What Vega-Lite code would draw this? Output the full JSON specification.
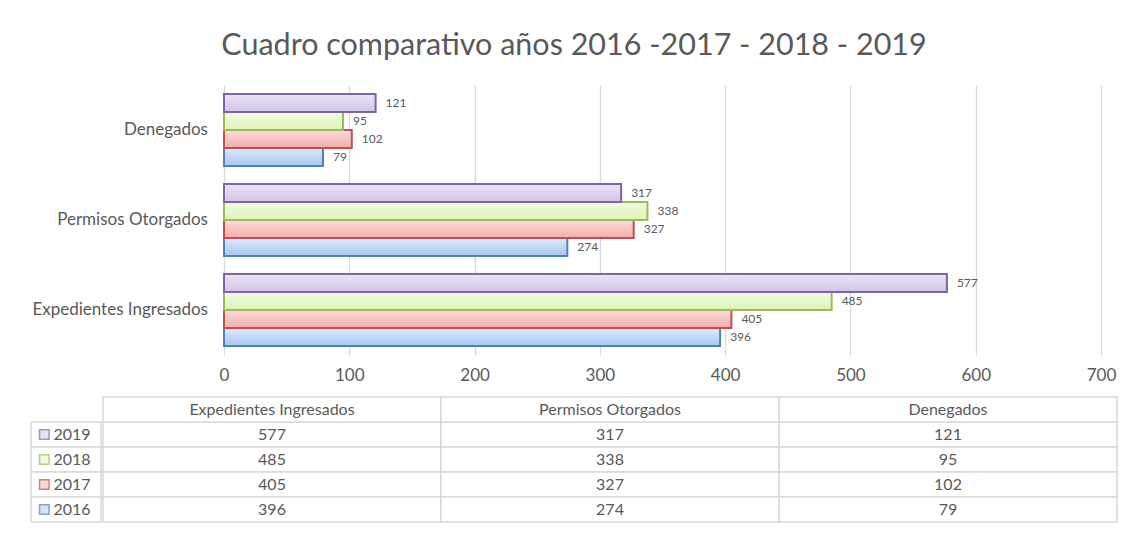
{
  "$schema": "https://vega.github.io/schema/vega-lite/v6.json",
  "background": "white",
  "padding": {"left": 30, "top": 30, "right": 10, "bottom": 10},
  "title": {"text": "Cuadro comparativo años 2016 -2017 - 2018 - 2019", "fontSize": 30.5, "font": "Lato", "fontWeight": "normal", "color": "#595959", "anchor": "middle", "offset": 24},
  "config": {"font": "Lato", "view": {"stroke": null}},
  "datasets": {
    "d": [
      {"cat": "Expedientes Ingresados", "year": "2019", "value": 577},
      {"cat": "Expedientes Ingresados", "year": "2018", "value": 485},
      {"cat": "Expedientes Ingresados", "year": "2017", "value": 405},
      {"cat": "Expedientes Ingresados", "year": "2016", "value": 396},
      {"cat": "Permisos Otorgados", "year": "2019", "value": 317},
      {"cat": "Permisos Otorgados", "year": "2018", "value": 338},
      {"cat": "Permisos Otorgados", "year": "2017", "value": 327},
      {"cat": "Permisos Otorgados", "year": "2016", "value": 274},
      {"cat": "Denegados", "year": "2019", "value": 121},
      {"cat": "Denegados", "year": "2018", "value": 95},
      {"cat": "Denegados", "year": "2017", "value": 102},
      {"cat": "Denegados", "year": "2016", "value": 79}
    ]
  },
  "spacing": 13,
  "vconcat": [
    {
      "width": 1084,
      "height": 270,
      "data": {"name": "d"},
      "encoding": {
        "y": {"field": "cat", "type": "nominal", "sort": ["Denegados", "Permisos Otorgados", "Expedientes Ingresados"],
          "scale": {"paddingInner": 0.2, "paddingOuter": 0.1}, "axis": null}
      },
      "layer": [
        {"mark": {"type": "rule", "color": "#d9d9d9", "strokeWidth": 1.3},
          "encoding": {"x": {"datum": 0, "type": "quantitative", "scale": {"domain": [-154.05, 711.17], "nice": false, "zero": false},
            "axis": {"title": null, "grid": true, "values": [0, 100, 200, 300, 400, 500, 600, 700], "ticks": false, "domain": false, "gridColor": "#d9d9d9", "gridWidth": 1.3, "labelFontSize": 17, "labelColor": "#595959", "labelPadding": 12}}}},
        {"transform": [{"filter": "datum.year == '2016'"}],
          "mark": {"type": "bar", "strokeWidth": 2, "stroke": "#4f81bd",
            "fill": {"gradient": "linear", "x1": 0, "y1": 0, "x2": 0, "y2": 1, "stops": [{"offset": 0, "color": "#dce9fb"}, {"offset": 1, "color": "#a9c7ef"}]}},
          "encoding": {"x": {"field": "value", "type": "quantitative"}, "yOffset": {"field": "year", "type": "nominal", "scale": {"domain": ["2019", "2018", "2017", "2016"], "paddingInner": 0, "paddingOuter": 0}}}},
        {"transform": [{"filter": "datum.year == '2017'"}],
          "mark": {"type": "bar", "strokeWidth": 2, "stroke": "#c0504d",
            "fill": {"gradient": "linear", "x1": 0, "y1": 0, "x2": 0, "y2": 1, "stops": [{"offset": 0, "color": "#fcdcdb"}, {"offset": 1, "color": "#f4acaa"}]}},
          "encoding": {"x": {"field": "value", "type": "quantitative"}, "yOffset": {"field": "year", "type": "nominal"}}},
        {"transform": [{"filter": "datum.year == '2018'"}],
          "mark": {"type": "bar", "strokeWidth": 2, "stroke": "#9bbb59",
            "fill": {"gradient": "linear", "x1": 0, "y1": 0, "x2": 0, "y2": 1, "stops": [{"offset": 0, "color": "#f2fce4"}, {"offset": 1, "color": "#dcf3b8"}]}},
          "encoding": {"x": {"field": "value", "type": "quantitative"}, "yOffset": {"field": "year", "type": "nominal"}}},
        {"transform": [{"filter": "datum.year == '2019'"}],
          "mark": {"type": "bar", "strokeWidth": 2, "stroke": "#8064a2",
            "fill": {"gradient": "linear", "x1": 0, "y1": 0, "x2": 0, "y2": 1, "stops": [{"offset": 0, "color": "#ebe4f5"}, {"offset": 1, "color": "#d2c5e8"}]}},
          "encoding": {"x": {"field": "value", "type": "quantitative"}, "yOffset": {"field": "year", "type": "nominal"}}},
        {"mark": {"type": "text", "align": "left", "dx": 10, "fontSize": 12, "color": "#595959"},
          "encoding": {"x": {"field": "value", "type": "quantitative"}, "yOffset": {"field": "year", "type": "nominal"}, "text": {"field": "value", "type": "quantitative"}}},
        {"transform": [{"filter": "datum.year == '2019'"}],
          "mark": {"type": "text", "align": "right", "fontSize": 17, "color": "#595959"},
          "encoding": {"x": {"datum": -12.8, "type": "quantitative"}, "text": {"field": "cat"}}}
      ]
    },
    {
      "spacing": 0,
      "hconcat": [
        {
          "width": 70,
          "height": 125,
          "data": {"name": "d"},
          "transform": [{"filter": "datum.cat == 'Denegados'"}],
          "encoding": {
            "y": {"field": "year", "type": "nominal", "scale": {"domain": ["h", "2019", "2018", "2017", "2016"], "paddingInner": 0, "paddingOuter": 0}, "axis": null}
          },
          "layer": [
            {"mark": {"type": "rect", "fill": "white", "stroke": "#d9d9d9", "strokeWidth": 1.5},
              "encoding": {"x": {"datum": 0, "type": "quantitative", "scale": {"domain": [0, 1]}, "axis": null}, "x2": {"datum": 1}}},
            {"mark": {"type": "point", "shape": "square", "size": 90, "filled": true, "strokeWidth": 1.5},
              "encoding": {"x": {"datum": 0.19, "type": "quantitative"},
                "fill": {"field": "year", "type": "nominal", "scale": {"domain": ["2016", "2017", "2018", "2019"], "range": ["#c5d9f1", "#f8c5c4", "#e8f8cf", "#ddd3ef"]}, "legend": null},
                "stroke": {"field": "year", "type": "nominal", "scale": {"domain": ["2016", "2017", "2018", "2019"], "range": ["#4f81bd", "#c0504d", "#9bbb59", "#8064a2"]}, "legend": null}}},
            {"mark": {"type": "text", "align": "left", "fontSize": 16, "color": "#595959"},
              "encoding": {"x": {"datum": 0.32, "type": "quantitative"}, "text": {"field": "year"}}}
          ]
        },
        {
          "width": 1014,
          "height": 125,
          "data": {"name": "d"},
          "encoding": {
            "x": {"field": "cat", "type": "nominal", "sort": ["Expedientes Ingresados", "Permisos Otorgados", "Denegados"], "scale": {"paddingInner": 0, "paddingOuter": 0}, "axis": null}
          },
          "layer": [
            {"mark": {"type": "rect", "fill": "white", "stroke": "#d9d9d9", "strokeWidth": 1.5},
              "encoding": {"y": {"field": "year", "type": "nominal", "scale": {"domain": ["h", "2019", "2018", "2017", "2016"], "paddingInner": 0, "paddingOuter": 0}, "axis": null}}},
            {"transform": [{"filter": "datum.year == '2019'"}],
              "mark": {"type": "rect", "fill": "white", "stroke": "#d9d9d9", "strokeWidth": 1.5},
              "encoding": {"y": {"datum": "h", "type": "nominal"}}},
            {"mark": {"type": "text", "fontSize": 16, "color": "#595959"},
              "encoding": {"y": {"field": "year", "type": "nominal"}, "text": {"field": "value", "type": "quantitative"}}},
            {"transform": [{"filter": "datum.year == '2019'"}],
              "mark": {"type": "text", "fontSize": 16, "color": "#595959"},
              "encoding": {"y": {"datum": "h", "type": "nominal"}, "text": {"field": "cat"}}}
          ]
        }
      ]
    }
  ]
}
